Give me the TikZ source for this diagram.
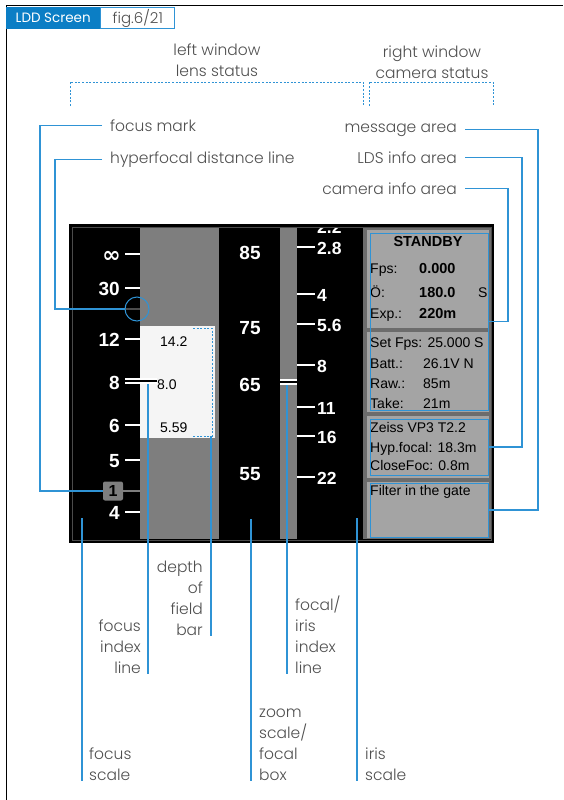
\documentclass[tikz,border=0pt]{standalone}
\usepackage{fontspec}
\usepackage{xcolor}
\usepackage{tikz}
\usetikzlibrary{positioning,calc}
\IfFontExistsTF{Poppins Light}
  {\setmainfont{Poppins}[UprightFont=* Light,BoldFont=*]}
  {\setmainfont{Poppins}}
\newfontfamily\lcdfont{Liberation Sans}
\newfontfamily\symfont{DejaVu Sans}
\definecolor{lddblue}{HTML}{0B7EC5}
\definecolor{lddline}{HTML}{2F93D5}
\definecolor{lddtext}{HTML}{4F4F4F}
\definecolor{lddgray}{HTML}{7E7E7E}
\definecolor{lddpanel}{HTML}{A4A4A4}
\definecolor{lddedge}{HTML}{6C6C6C}
\definecolor{ldddof}{HTML}{F5F5F5}

\begin{document}
\begin{tikzpicture}[
    x=1pt, y=-1pt,
    lbl/.style={font=\fontsize{15.5}{21}\selectfont, text=lddtext, inner sep=0pt},
    lead/.style={draw=lddline, line width=1.1pt},
    bracket/.style={draw=lddline, line width=1pt, dash pattern=on 2pt off 1.6pt},
    scalenum/.style={font=\lcdfont\bfseries\fontsize{19}{19}\selectfont, text=white, inner sep=0pt},
    irisnum/.style={font=\lcdfont\bfseries\fontsize{17.5}{17}\selectfont, text=white, inner sep=0pt, anchor=west},
    scaletick/.style={draw=white, line width=2pt},
    lcd/.style={font=\lcdfont\fontsize{14}{14}\selectfont, text=black, inner sep=0pt, anchor=base west},
    lcdb/.style={lcd, font=\lcdfont\bfseries\fontsize{14.5}{14}\selectfont},
    area/.style={rectangle, draw=lddline, line width=1pt, minimum width=118pt, inner sep=0pt}
]
    \useasboundingbox (0,0) rectangle (563,800);

    % Page frame and title
    \draw[black, line width=1pt] (6,800) -- (6,6) -- (563,6);
    \node (title) [fill=lddblue, text=white, font=\bfseries\fontsize{13.5}{14}\selectfont, minimum width=94pt, minimum height=22pt, inner sep=0pt, anchor=north west] at (6,7) {LDD Screen};
    \node (fig) [draw=lddline, line width=0.8pt, text=lddtext, font=\fontsize{15}{15}\selectfont, minimum width=74pt, minimum height=21pt, inner sep=0pt, right=0pt of title] {fig.6/21};

    % Window titles
    \node (lwin) [lbl, align=center] at (217,60) {left window\\lens status};
    \node (rwin) [lbl, align=center] at (432,62) {right window\\camera status};
    \draw[bracket] (70,106) -- (70,82) -- (363,82) -- (363,106);
    \draw[bracket] (369,106) -- (369,82) -- (493,82) -- (493,106);

    % LCD screen
    \fill[black] (69,224) rectangle (494,543);
    \fill[lddgray] (140,228) rectangle (219,539);
    \fill[lddgray] (280,228) rectangle (297,539);
    \fill[lddedge] (363,228) rectangle (491,539);
    \fill[lddpanel] (367,230) rectangle (489,328);
    \fill[lddpanel] (367,332) rectangle (489,412);
    \fill[lddpanel] (367,416) rectangle (489,478);
    \fill[lddpanel] (367,482) rectangle (489,538);
    \draw[lddedge!70!black, line width=1pt] (72.5,227.5) rectangle (491,540);
    \fill[ldddof] (140,326) rectangle (215,438);

    % Focus scale
    \foreach \val/\ypos in {30/289, 12/340, 6/426, 5/461, 4/513}
    {
        \node (foc\ypos) [scalenum, anchor=east] at (120,\ypos) {\val};
        \draw[scaletick] (125,\ypos-1.5) -- (140,\ypos-1.5);
    }
    \node (focInf) [scalenum, font=\symfont\bfseries\fontsize{22}{22}\selectfont, anchor=east] at (121,257) {∞};
    \draw[scaletick] (125,254) -- (140,254);
    \node (foc8) [scalenum, anchor=east] at (120,383) {8};
    \node (fIndex) [fill=white, minimum width=32pt, minimum height=5.5pt, inner sep=0pt] at (141,381) {};
    \draw[black, line width=1.3pt] (fIndex.west) -- (fIndex.east);
    \draw[lddedge!70!black, line width=2pt] (125,309) -- (140,309);
    \node (hyper) [circle, draw=lddline, line width=1pt, minimum size=24pt, inner sep=0pt] at (137,309) {};
    \draw[lddgray, line width=2pt] (122,491) -- (145,491);
    \node (fmark) [fill=lddgray, text=black, rounded corners=2pt, minimum width=20pt, minimum height=19pt, inner sep=0pt, font=\lcdfont\bfseries\fontsize{16}{16}\selectfont] at (113,491) {1};

    % Depth of field bar
    \node (dofFar) [lcd] at (160,346) {14.2};
    \node (dofMid) [lcd] at (157,389) {8.0};
    \node (dofNear) [lcd] at (160,432) {5.59};
    \draw[bracket] (193,328) -- (212,328) -- (212,436) -- (193,436);

    % Zoom scale
    \foreach \val/\ypos in {85/253, 75/328, 65/385, 55/474}
        \node (zm\val) [scalenum] at (250,\ypos) {\val};
    \node (iIndex) [fill=white, minimum width=17pt, minimum height=5.5pt, inner sep=0pt] at (288.5,382) {};
    \draw[black, line width=1.3pt] (iIndex.west) -- (iIndex.east);

    % Iris scale
    \begin{scope}
        \clip (297,228) rectangle (363,539);
        \foreach \val/\ypos in {2.2/227, 2.8/248, 4/295, 5.6/325, 8/366, 11/408, 16/437, 22/478}
        {
            \node (ir\ypos) [irisnum] at (317,\ypos) {\val};
            \draw[scaletick] (297,\ypos-1) -- (315,\ypos-1);
        }
    \end{scope}

    % Camera status panels
    \node (standby) [lcdb, anchor=center] at (428,242) {STANDBY};
    \node (fpsK) [lcd] at (370,273) {Fps:};
    \node (fpsV) [lcdb] at (419,273) {0.000};
    \node (shK) [lcd] at (370,297) {Ö:};
    \node (shV) [lcdb] at (419,297) {180.0};
    \node (shS) [lcd] at (478,297) {S};
    \node (expK) [lcd] at (370,318) {Exp.:};
    \node (expV) [lcdb] at (419,318) {220m};
    \node (setFps) [lcd] at (370,347) {Set Fps: 25.000 S};
    \node (battK) [lcd] at (370,368) {Batt.:};
    \node (battV) [lcd] at (423,368) {26.1V N};
    \node (rawK) [lcd] at (370,388) {Raw.:};
    \node (rawV) [lcd] at (423,388) {85m};
    \node (takeK) [lcd] at (370,408) {Take:};
    \node (takeV) [lcd] at (423,408) {21m};
    \node (lens) [lcd] at (370,432) {Zeiss VP3 T2.2};
    \node (hypf) [lcd] at (370,452) {Hyp.focal: 18.3m};
    \node (close) [lcd] at (370,470) {CloseFoc: 0.8m};
    \node (filter) [lcd] at (370,495) {Filter in the gate};
    \node (camInfo) [area, minimum height=177pt] at (429,321.5) {};
    \node (ldsArea) [area, minimum height=56pt] at (429,447) {};
    \node (msgArea) [area, minimum height=54pt] at (429,510) {};

    % Side call-outs
    \node (lFocMark) [lbl, anchor=base west] at (110,131) {focus mark};
    \node (lHyper) [lbl, anchor=base west] at (110,163) {hyperfocal distance line};
    \node (lMsg) [lbl, anchor=base east] at (457,132) {message area};
    \node (lLds) [lbl, anchor=base east] at (457,163) {LDS info area};
    \node (lCam) [lbl, anchor=base east] at (457,194) {camera info area};
    \draw[lead] ([xshift=-8pt]lFocMark.west) -- ++(-62,0) |- (fmark.west);
    \draw[lead] ([xshift=-8pt]lHyper.west) -- ++(-47,0) |- (hyper.west);
    \draw[lead] ([xshift=8pt]lMsg.east) -- ++(73,0) |- (msgArea.east);
    \draw[lead] ([xshift=8pt]lLds.east) -- ++(57,0) |- (ldsArea.east);
    \draw[lead] ([xshift=8pt]lCam.east) -- ++(43,0) |- (camInfo.east);

    % Bottom call-outs
    \coordinate (fsTip) at (82,518);
    \coordinate (fiTip) at (148,384);
    \coordinate (dofTip) at (211,436);
    \coordinate (zsTip) at (251,519);
    \coordinate (iiTip) at (287,385);
    \coordinate (isTip) at (357,518);
    \node (lFocScale) [lbl, align=left, anchor=south west] at (89,781) {focus\\scale};
    \node (lFocIdx) [lbl, align=right, anchor=south east] at (141,674) {focus\\index\\line};
    \node (lDof) [lbl, align=right, anchor=south east] at (203,636) {depth\\of\\field\\bar};
    \node (lZoom) [lbl, align=left, anchor=south west] at (259,781) {zoom\\scale/\\focal\\box};
    \node (lIrisIdx) [lbl, align=left, anchor=south west] at (295,674) {focal/\\iris\\index\\line};
    \node (lIris) [lbl, align=left, anchor=south west] at (365,781) {iris\\scale};
    \draw[lead] (fsTip) -- (fsTip |- lFocScale.south);
    \draw[lead] (fiTip) -- (fiTip |- lFocIdx.south);
    \draw[lead] (dofTip) -- (dofTip |- lDof.south);
    \draw[lead] (zsTip) -- (zsTip |- lZoom.south);
    \draw[lead] (iiTip) -- (iiTip |- lIrisIdx.south);
    \draw[lead] (isTip) -- (isTip |- lIris.south);
\end{tikzpicture}
\end{document}
